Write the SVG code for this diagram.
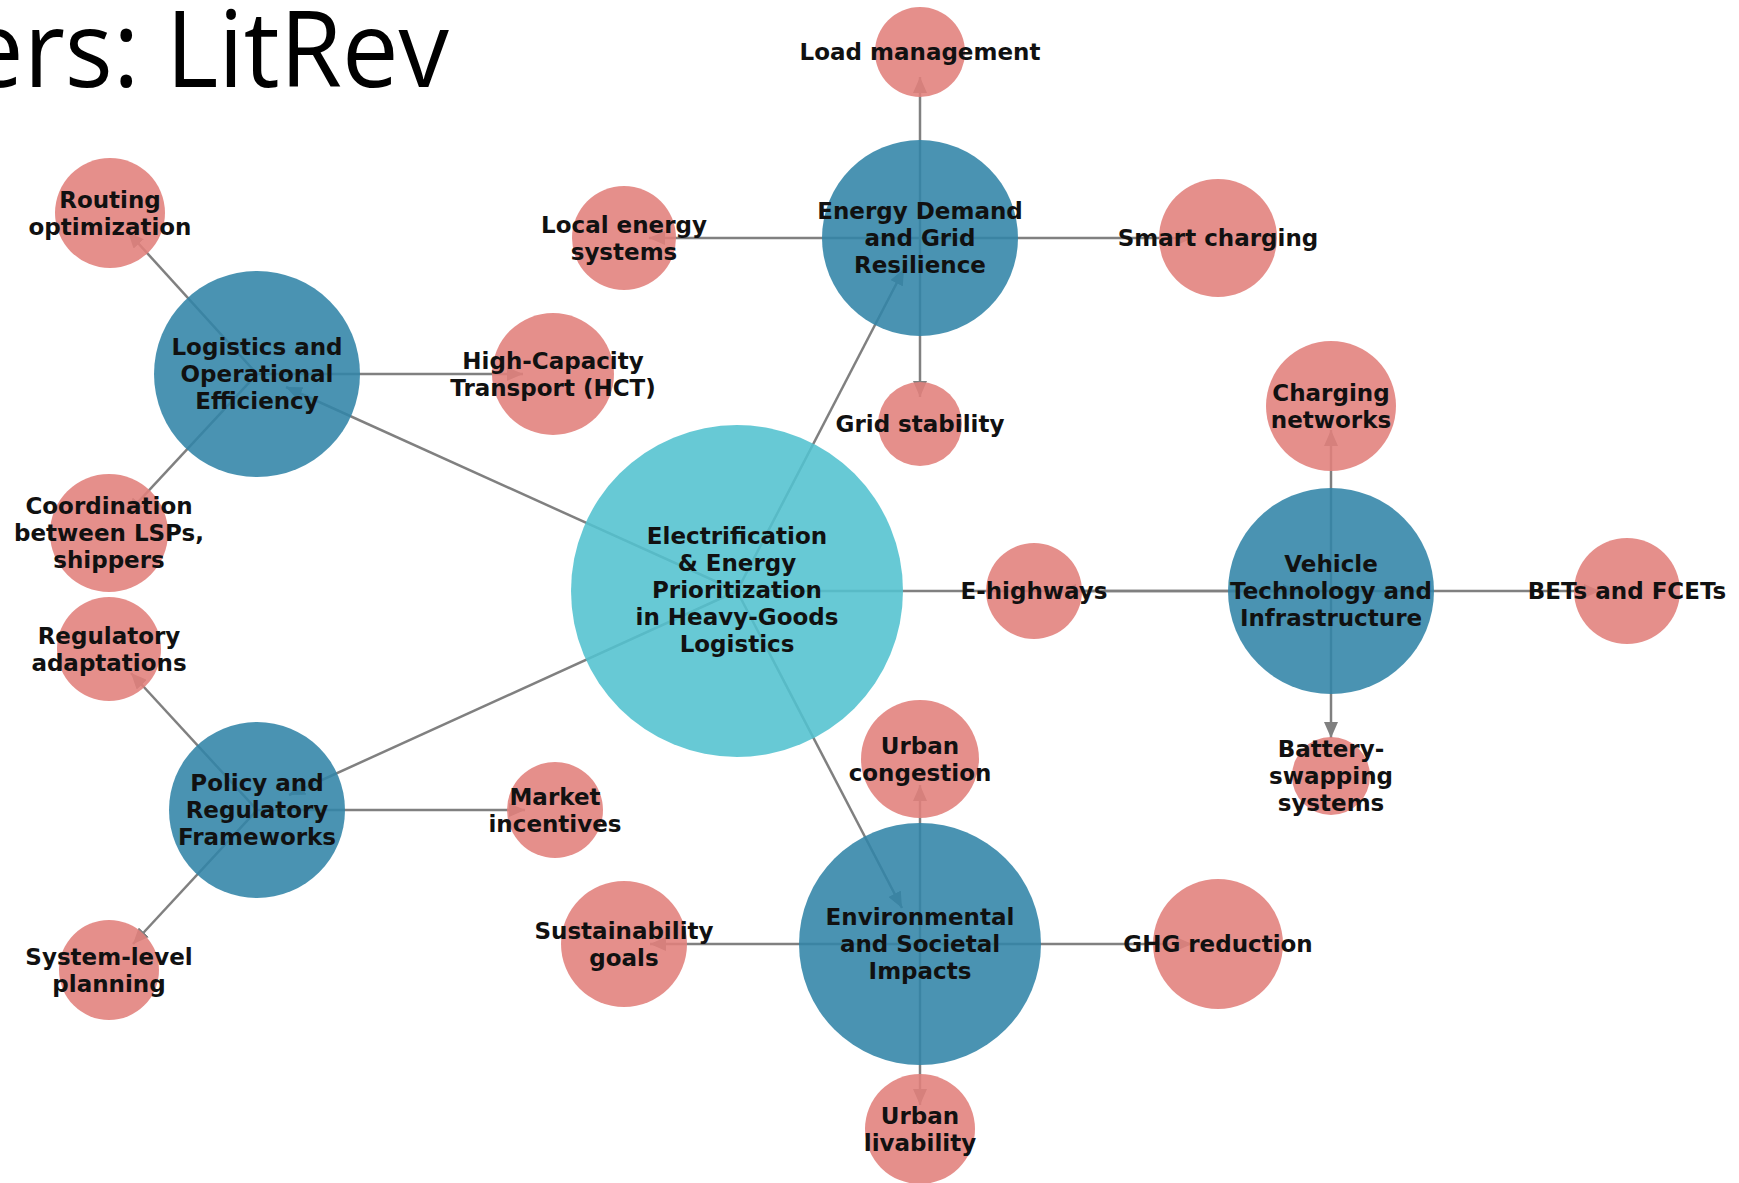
<svg xmlns="http://www.w3.org/2000/svg" width="1739" height="1183" viewBox="0 0 1739 1183">
<style>
.e{stroke:#808080;stroke-width:2.5;fill:none;marker-end:url(#ah)}
.c{fill:#52C1CF;fill-opacity:0.88}
.h{fill:#3184A7;fill-opacity:0.88}
.l{fill:#E17F7B;fill-opacity:0.88}
.t{font-family:"DejaVu Sans",sans-serif;font-weight:bold;font-size:23px;fill:#111;text-anchor:middle}
.title{font-family:"Open Sans","Liberation Sans",sans-serif;font-size:106px;fill:#000}
</style>
<defs>
<marker id="ah" markerUnits="userSpaceOnUse" markerWidth="18" markerHeight="14" refX="16" refY="7" orient="auto">
<path d="M0,0 L16,7 L0,14 z" fill="#808080"/>
</marker>
</defs>
<rect width="1739" height="1183" fill="#fff"/>
<text class="title" x="-33" y="87" textLength="482" lengthAdjust="spacingAndGlyphs">ers: LitRev</text>
<g id="connectors">
<line class="e" x1="737" y1="591" x2="904" y2="269"/>
<line class="e" x1="737" y1="591" x2="286" y2="387"/>
<line class="e" x1="737" y1="591" x2="1299" y2="591"/>
<line class="e" x1="737" y1="591" x2="289" y2="795"/>
<line class="e" x1="737" y1="591" x2="902" y2="908"/>
<line class="e" x1="920" y1="238" x2="920" y2="77"/>
<line class="e" x1="920" y1="238" x2="649" y2="238"/>
<line class="e" x1="920" y1="238" x2="1193" y2="238"/>
<line class="e" x1="920" y1="238" x2="920" y2="397"/>
<line class="e" x1="257" y1="374" x2="128" y2="232"/>
<line class="e" x1="257" y1="374" x2="523" y2="374"/>
<line class="e" x1="257" y1="374" x2="127" y2="514"/>
<line class="e" x1="257" y1="810" x2="131" y2="673"/>
<line class="e" x1="257" y1="810" x2="525" y2="810"/>
<line class="e" x1="257" y1="810" x2="133" y2="944"/>
<line class="e" x1="1331" y1="591" x2="1331" y2="430"/>
<line class="e" x1="1331" y1="591" x2="1060" y2="591"/>
<line class="e" x1="1331" y1="591" x2="1600" y2="591"/>
<line class="e" x1="1331" y1="591" x2="1331" y2="738"/>
<line class="e" x1="920" y1="944" x2="920" y2="785"/>
<line class="e" x1="920" y1="944" x2="650" y2="944"/>
<line class="e" x1="920" y1="944" x2="1192" y2="944"/>
<line class="e" x1="920" y1="944" x2="920" y2="1105"/>
</g>
<g id="n-central"><circle class="c" cx="737" cy="591" r="166"/>
<text class="t"><tspan x="737" y="544">Electrification</tspan><tspan x="737" y="571">&amp; Energy</tspan><tspan x="737" y="598">Prioritization</tspan><tspan x="737" y="625">in Heavy-Goods</tspan><tspan x="737" y="652">Logistics</tspan></text></g>
<g id="n-energy"><circle class="h" cx="920" cy="238" r="98"/>
<text class="t"><tspan x="920" y="219">Energy Demand</tspan><tspan x="920" y="246">and Grid</tspan><tspan x="920" y="273">Resilience</tspan></text></g>
<g id="n-logistics"><circle class="h" cx="257" cy="374" r="103"/>
<text class="t"><tspan x="257" y="355">Logistics and</tspan><tspan x="257" y="382">Operational</tspan><tspan x="257" y="409">Efficiency</tspan></text></g>
<g id="n-vehicle"><circle class="h" cx="1331" cy="591" r="103"/>
<text class="t"><tspan x="1331" y="572">Vehicle</tspan><tspan x="1331" y="599">Technology and</tspan><tspan x="1331" y="626">Infrastructure</tspan></text></g>
<g id="n-policy"><circle class="h" cx="257" cy="810" r="88"/>
<text class="t"><tspan x="257" y="791">Policy and</tspan><tspan x="257" y="818">Regulatory</tspan><tspan x="257" y="845">Frameworks</tspan></text></g>
<g id="n-env"><circle class="h" cx="920" cy="944" r="121"/>
<text class="t"><tspan x="920" y="925">Environmental</tspan><tspan x="920" y="952">and Societal</tspan><tspan x="920" y="979">Impacts</tspan></text></g>
<g id="n-load"><circle class="l" cx="920" cy="52" r="45"/><text class="t" x="920" y="60">Load management</text></g>
<g id="n-local"><circle class="l" cx="624" cy="238" r="52"/><text class="t"><tspan x="624" y="232.5">Local energy</tspan><tspan x="624" y="259.5">systems</tspan></text></g>
<g id="n-smart"><circle class="l" cx="1218" cy="238" r="59"/><text class="t" x="1218" y="246">Smart charging</text></g>
<g id="n-grid"><circle class="l" cx="920" cy="424" r="42"/><text class="t" x="920" y="432">Grid stability</text></g>
<g id="n-routing"><circle class="l" cx="110" cy="213" r="55"/><text class="t"><tspan x="110" y="207.5">Routing</tspan><tspan x="110" y="234.5">optimization</tspan></text></g>
<g id="n-hct"><circle class="l" cx="553" cy="374" r="61"/><text class="t"><tspan x="553" y="368.5">High-Capacity</tspan><tspan x="553" y="395.5">Transport (HCT)</tspan></text></g>
<g id="n-coord"><circle class="l" cx="109" cy="533" r="59"/><text class="t"><tspan x="109" y="514">Coordination</tspan><tspan x="109" y="541">between LSPs,</tspan><tspan x="109" y="568">shippers</tspan></text></g>
<g id="n-regad"><circle class="l" cx="109" cy="649" r="52"/><text class="t"><tspan x="109" y="643.5">Regulatory</tspan><tspan x="109" y="670.5">adaptations</tspan></text></g>
<g id="n-market"><circle class="l" cx="555" cy="810" r="48"/><text class="t"><tspan x="555" y="804.5">Market</tspan><tspan x="555" y="831.5">incentives</tspan></text></g>
<g id="n-system"><circle class="l" cx="109" cy="970" r="50"/><text class="t"><tspan x="109" y="964.5">System-level</tspan><tspan x="109" y="991.5">planning</tspan></text></g>
<g id="n-charging"><circle class="l" cx="1331" cy="406" r="65"/><text class="t"><tspan x="1331" y="400.5">Charging</tspan><tspan x="1331" y="427.5">networks</tspan></text></g>
<g id="n-ehighways"><circle class="l" cx="1034" cy="591" r="48"/><text class="t" x="1034" y="599">E-highways</text></g>
<g id="n-bets"><circle class="l" cx="1627" cy="591" r="53"/><text class="t" x="1627" y="599">BETs and FCETs</text></g>
<g id="n-battery"><circle class="l" cx="1331" cy="776" r="39"/><text class="t"><tspan x="1331" y="757">Battery-</tspan><tspan x="1331" y="784">swapping</tspan><tspan x="1331" y="811">systems</tspan></text></g>
<g id="n-congestion"><circle class="l" cx="920" cy="759" r="59"/><text class="t"><tspan x="920" y="753.5">Urban</tspan><tspan x="920" y="780.5">congestion</tspan></text></g>
<g id="n-sustain"><circle class="l" cx="624" cy="944" r="63"/><text class="t"><tspan x="624" y="938.5">Sustainability</tspan><tspan x="624" y="965.5">goals</tspan></text></g>
<g id="n-ghg"><circle class="l" cx="1218" cy="944" r="65"/><text class="t" x="1218" y="952">GHG reduction</text></g>
<g id="n-livability"><circle class="l" cx="920" cy="1129" r="55"/><text class="t"><tspan x="920" y="1123.5">Urban</tspan><tspan x="920" y="1150.5">livability</tspan></text></g>
</svg>
